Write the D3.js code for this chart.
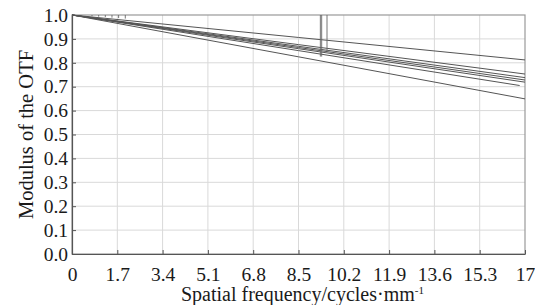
<!DOCTYPE html>
<html>
<head>
<meta charset="utf-8">
<style>
  body { margin: 0; background: #fff; }
  svg { display: block; font-family: "Liberation Serif", "DejaVu Serif", serif; }
</style>
</head>
<body>
<svg width="535" height="305"></svg>
<script src="https://cdn.jsdelivr.net/npm/d3@7/dist/d3.min.js"></script>
<script>

// tick values
var xTicks = [0, 1.7, 3.4, 5.1, 6.8, 8.5, 10.2, 11.9, 13.6, 15.3, 17];
var xTickLabels = ["0", "1.7", "3.4", "5.1", "6.8", "8.5", "10.2", "11.9", "13.6", "15.3", "17"];
var yTicks = [0, 0.1, 0.2, 0.3, 0.4, 0.5, 0.6, 0.7, 0.8, 0.9, 1.0];

// MTF curves, [frequency, modulus]
var curve1 = [[0, 1], [8.5, 0.906], [17, 0.812]];
var curve2 = [[0, 1], [8.5, 0.876], [17, 0.753]];
var curve3 = [[0, 1], [8.5, 0.869], [17, 0.738]];
var curve4 = [[0, 1], [8.5, 0.864], [17, 0.728]];
var curve5 = [[0, 1], [8.5, 0.859], [17, 0.719]];
var curve6 = [[0, 1], [8.5, 0.851], [16.8, 0.705]];
var curve7 = [[0, 1], [8.5, 0.825], [17, 0.649]];

// short drop marks from the top edge
var markFreq = [0.75, 1.0, 1.25, 1.5, 1.75, 2.0, 9.32, 9.37, 9.57];
var markVal  = [0.995, 0.993, 0.991, 0.989, 0.987, 0.985, 0.826, 0.826, 0.848];

var curves = [curve1, curve2, curve3, curve4, curve5, curve6, curve7];

var svg = d3.select("svg");
var margin = {top: 15, right: 10, bottom: 51, left: 72};
var W = 535, H = 305;

var x = d3.scaleLinear().domain([0, 17]).range([margin.left, W - margin.right]);
var y = d3.scaleLinear().domain([0, 1]).range([H - margin.bottom, margin.top]);

// grid
svg.append("g").selectAll("line")
  .data(xTicks.slice(1, -1))
  .enter().append("line")
    .attr("x1", d => x(d)).attr("x2", d => x(d))
    .attr("y1", y(0)).attr("y2", y(1))
    .attr("stroke", "#d9d9d9").attr("stroke-width", 1);

svg.append("g").selectAll("line")
  .data(yTicks.slice(1, -1))
  .enter().append("line")
    .attr("x1", x(0)).attr("x2", x(17))
    .attr("y1", d => y(d)).attr("y2", d => y(d))
    .attr("stroke", "#d9d9d9").attr("stroke-width", 1);

// frame
svg.append("rect")
  .attr("x", x(0)).attr("y", y(1))
  .attr("width", x(17) - x(0)).attr("height", y(0) - y(1))
  .attr("fill", "none").attr("stroke", "#999").attr("stroke-width", 1.2);

// axes, ticks inward
var xAxis = d3.axisBottom(x).tickValues(xTicks)
  .tickFormat((d, i) => xTickLabels[i]).tickSizeInner(-4).tickSizeOuter(0).tickPadding(9);
var yAxis = d3.axisLeft(y).tickValues(yTicks)
  .tickFormat(d => d.toFixed(1)).tickSizeInner(-4).tickSizeOuter(0).tickPadding(4);

var gx = svg.append("g").attr("transform", "translate(0," + y(0) + ")").call(xAxis);
var gy = svg.append("g").attr("transform", "translate(" + x(0) + ",0)").call(yAxis);

[gx, gy].forEach(function(g) {
  g.select(".domain").attr("stroke", "#555").attr("stroke-width", 1.2);
  g.selectAll(".tick line").attr("stroke", "#555");
  g.selectAll("text")
    .attr("fill", "#1a1a1a")
    .style("font-family", "Liberation Serif, serif")
    .style("font-size", "19.5px");
});
gx.selectAll(".tick text").attr("dy", "0.9em");

// curves
var line = d3.line().x(d => x(d[0])).y(d => y(d[1]));
svg.append("g").selectAll("path")
  .data(curves)
  .enter().append("path")
    .attr("d", line)
    .attr("fill", "none")
    .attr("stroke", "#555")
    .attr("stroke-width", 1);

// drop marks
svg.append("g").selectAll("line")
  .data(markFreq)
  .enter().append("line")
    .attr("x1", d => x(d)).attr("x2", d => x(d))
    .attr("y1", y(1)).attr("y2", (d, i) => y(markVal[i]))
    .attr("stroke", "#666").attr("stroke-width", 0.9);

// axis titles
svg.append("text")
  .attr("transform", "translate(33," + ((y(0) + y(1)) / 2) + ") rotate(-90)")
  .attr("text-anchor", "middle")
  .style("font-size", "20.5px")
  .attr("fill", "#1a1a1a")
  .text("Modulus of the OTF");

var xt = svg.append("text")
  .attr("x", (x(0) + x(17)) / 2 + 4)
  .attr("y", 301)
  .attr("text-anchor", "middle")
  .style("font-size", "20px")
  .attr("fill", "#1a1a1a");
xt.append("tspan").text("Spatial frequency/cycles\u00b7mm");
xt.append("tspan").attr("dy", "-0.6em").style("font-size", "11px").text("-1");

</script>
</body>
</html>
